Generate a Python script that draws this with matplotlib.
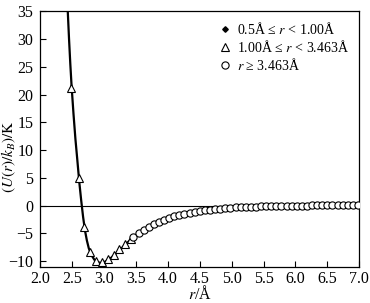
import matplotlib
matplotlib.use("Agg")
import matplotlib.pyplot as plt

plt.rcParams["font.family"] = ["Liberation Serif", "DejaVu Serif"]
plt.rcParams["mathtext.fontset"] = "stix"

# fitted potential curve
curve_r = [2.43, 2.45, 2.47, 2.49, 2.52, 2.55, 2.58, 2.61, 2.64, 2.67, 2.70,
           2.73, 2.76, 2.80, 2.85, 2.90, 2.95, 3.00, 3.05, 3.10, 3.15, 3.20,
           3.30, 3.40, 3.50, 3.60, 3.70, 3.80, 3.90, 4.00, 4.20, 4.40, 4.60,
           4.80, 5.00, 5.25, 5.50, 5.75, 6.00, 6.50, 7.00]
curve_u = [35.0, 30.0, 25.5, 21.5, 16.5, 12.0, 8.2, 4.3, 1.0, -2.0, -4.5,
           -6.3, -7.7, -8.9, -9.8, -10.2, -10.35, -10.2, -9.9, -9.5, -9.0, -8.5,
           -7.4, -6.3, -5.3, -4.5, -3.8, -3.2, -2.7, -2.25, -1.6, -1.1, -0.75,
           -0.5, -0.35, -0.22, -0.12, -0.05, 0.0, 0.05, 0.1]

# 1.00 A <= r < 3.463 A
tri_r = [2.48, 2.60, 2.68, 2.78, 2.88, 2.97, 3.06, 3.15, 3.24, 3.33, 3.42]
tri_u = [21.2, 5.0, -3.8, -8.3, -9.9, -10.2, -9.7, -8.9, -7.9, -7.0, -6.1]

# r >= 3.463 A
circ_r = [3.46, 3.54, 3.62, 3.70, 3.78, 3.86, 3.94, 4.02, 4.10, 4.18, 4.26,
          4.34, 4.42, 4.50, 4.58, 4.66, 4.74, 4.82, 4.90, 4.98, 5.06, 5.14,
          5.22, 5.30, 5.38, 5.46, 5.54, 5.62, 5.70, 5.78, 5.86, 5.94, 6.02,
          6.10, 6.18, 6.26, 6.34, 6.42, 6.50, 6.58, 6.66, 6.74, 6.82, 6.90,
          6.98]
circ_u = [-5.7, -5.0, -4.35, -3.8, -3.35, -2.95, -2.6, -2.25, -1.95, -1.7, -1.5,
          -1.3, -1.12, -0.97, -0.84, -0.73, -0.63, -0.54, -0.46, -0.40, -0.34, -0.29,
          -0.25, -0.21, -0.18, -0.15, -0.12, -0.10, -0.08, -0.06, -0.04, -0.03, -0.01,
          0.0, 0.01, 0.02, 0.03, 0.04, 0.05, 0.06, 0.07, 0.08, 0.09, 0.10,
          0.11]

# 0.5 A <= r < 1.00 A (outside the plotted range)
dia_r = []
dia_u = []

x_ticks = [2.0, 2.5, 3.0, 3.5, 4.0, 4.5, 5.0, 5.5, 6.0, 6.5, 7.0]
y_ticks = [-10, -5, 0, 5, 10, 15, 20, 25, 30, 35]

fig = plt.figure(figsize=(3.70, 3.03), dpi=100)
ax = fig.add_axes([0.109, 0.120, 0.862, 0.843])

ax.axhline(0, color="k", lw=0.8, zorder=1)
ax.plot(curve_r, curve_u, color="k", lw=1.6, zorder=2)
ax.plot(dia_r, dia_u, ls="none", marker="D", ms=2.8, color="k",
        label="0.5Å ≤ $r$ < 1.00Å")
ax.plot(tri_r, tri_u, ls="none", marker="^", ms=5.5, mfc="white", mec="k",
        mew=0.8, zorder=3, label="1.00Å ≤ $r$ < 3.463Å")
ax.plot(circ_r, circ_u, ls="none", marker="o", ms=5.2, mfc="white", mec="k",
        mew=0.8, zorder=3, label="$r$ ≥ 3.463Å")

ax.set_xlim(2.0, 7.0)
ax.set_ylim(-11, 35)
ax.set_xticks(x_ticks)
ax.set_xticklabels([f"{v:.1f}" for v in x_ticks])
ax.set_yticks(y_ticks)
ax.tick_params(direction="in", length=4, width=0.8, labelsize=11.5,
               top=False, right=False)
ax.tick_params(axis="y", pad=5)
ax.tick_params(axis="x", pad=3)
for s in ax.spines.values():
    s.set_linewidth(0.9)

ax.set_xlabel("$r$/Å", fontsize=11.5, labelpad=-1)
ax.set_ylabel(r"$(U(r)/k_B)/\mathrm{K}$", fontsize=11)
ax.yaxis.set_label_coords(-0.07, 0.43)

ax.legend(loc="upper right", frameon=False, fontsize=10, handlelength=0.8,
          handletextpad=0.5, labelspacing=0.15, borderaxespad=0.3,
          bbox_to_anchor=(1.0, 1.0))

fig.savefig("out.png", dpi=100)
